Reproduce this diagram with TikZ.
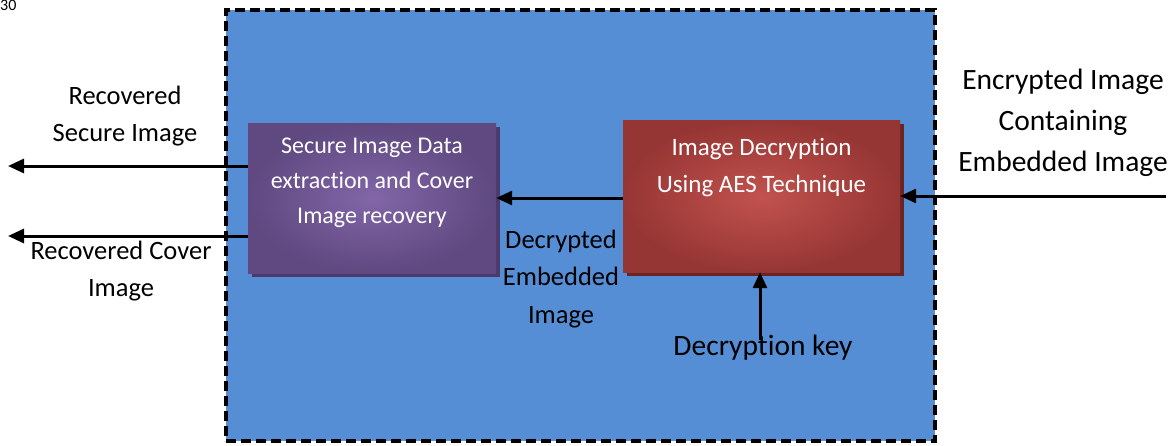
\documentclass[tikz,border=0pt]{standalone}
\usepackage{fontspec}
\setmainfont{Carlito}[Ligatures=NoCommon]
\usetikzlibrary{arrows.meta}
\definecolor{panelblue}{RGB}{85,142,213}
\definecolor{purpleedge}{RGB}{95,73,128}
\definecolor{purplemid}{RGB}{130,102,168}
\definecolor{purpleshade}{RGB}{76,58,108}
\definecolor{rededge}{RGB}{150,54,52}
\definecolor{redmid}{RGB}{194,82,78}
\definecolor{redshade}{RGB}{108,36,34}
\tikzset{
  panel/.style={draw=black, line width=3.2pt, dash pattern=on 10pt off 5pt, fill=panelblue},
  procbox/.style={draw=none, inner sep=0pt},
  label26/.style={inner sep=0pt, align=center, font=\fontsize{26.5}{37.5}\selectfont},
  label29/.style={inner sep=0pt, align=center, font=\fontsize{29.5}{41}\selectfont},
  boxtext/.style={inner sep=0pt, align=center, text=white, font=\fontsize{24}{35}\selectfont},
  flow/.style={line width=3pt, -{Triangle[length=16pt,width=14pt]}},
}
\begin{document}
\begin{tikzpicture}[x=1pt,y=-1pt]
\useasboundingbox (0,0) rectangle (1174,445);

% page number fragment
\node[inner sep=0pt, font=\fontsize{16}{16}\selectfont, anchor=north west] (pagenum) at (0,0) {30};

% dashed system panel
\node[panel, minimum width=709pt, minimum height=431pt, inner sep=0pt] (panel) at (580.5,225.5) {};

% extraction block with drop shadow
\fill[purpleshade] (252,127) rectangle (500,277);
\node[procbox, minimum width=248pt, minimum height=150pt, inner color=purplemid, outer color=purpleedge] (extract) at (372,198) {};
\node[boxtext] (extracttext) at (372,183) {Secure Image Data\\extraction and Cover\\Image recovery};

% decryption block with drop shadow
\fill[redshade] (627,124) rectangle (904,276);
\node[procbox, minimum width=277pt, minimum height=152pt, inner color=redmid, outer color=rededge] (decrypt) at (761.5,196) {};
\node[boxtext, font=\fontsize{25}{37}\selectfont] (decrypttext) at (761.5,168) {Image Decryption\\Using AES Technique};

% free ends of the outer connectors
\coordinate (outsecure) at (8,166);
\coordinate (outcover) at (8,236);
\coordinate (incipher) at (1166,196);
\coordinate (keysrc) at (760,340);

% connectors
\draw[flow] (extract.west |- outsecure) -- (outsecure);
\draw[flow] (extract.west |- outcover) -- (outcover);
\draw[flow] (decrypt.west |- 0,198) -- (extract.east |- 0,198);
\draw[flow] (incipher) -- (decrypt.east |- incipher);
\draw[flow] (keysrc) -- (keysrc |- decrypt.south);

% labels
\node[label26] (lblsecure) at (125,116) {Recovered\\Secure Image};
\node[label26] (lblcover) at (121,271) {Recovered Cover\\Image};
\node[label26] (lblembedded) at (561,279) {Decrypted\\Embedded\\Image};
\node[label29] (lblkey) at (763,348) {Decryption key};
\node[label29] (lblcipher) at (1063,123) {Encrypted Image\\Containing\\Embedded Image};
\end{tikzpicture}
\end{document}
